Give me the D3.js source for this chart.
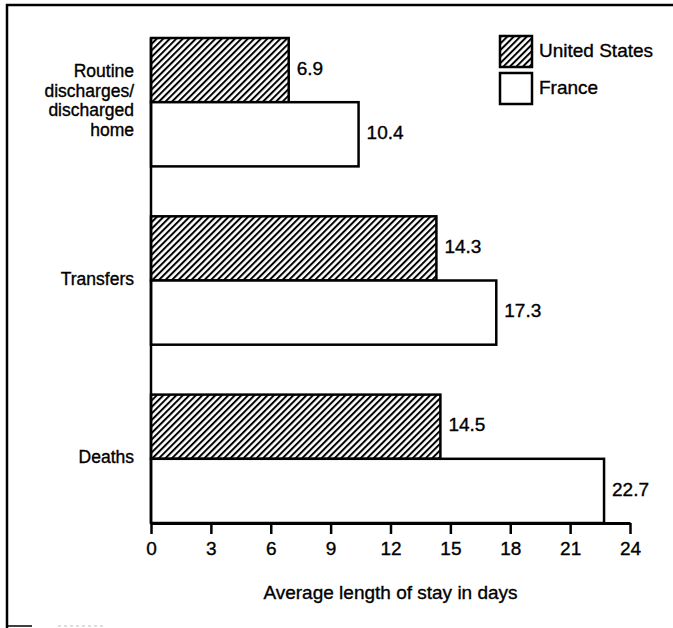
<!DOCTYPE html>
<html>
<head>
<meta charset="utf-8">
<script src="https://cdn.jsdelivr.net/npm/d3@7"></script>
<style>
body { margin: 0; background: #fff; }
text { font-family: "Liberation Sans", Arial, sans-serif; fill: #000; stroke: #000; stroke-width: 0.35px; }
</style>
</head>
<body>
<svg width="673" height="628"></svg>
<script>
// Data
const categories = ["Routine", "Transfers", "Deaths"];
const categoryLines = [["Routine", "discharges/", "discharged", "home"], ["Transfers"], ["Deaths"]];
const seriesNames = ["United States", "France"];
const usValues = [6.9, 14.3, 14.5];
const franceValues = [10.4, 17.3, 22.7];
const xTicks = [0, 3, 6, 9, 12, 15, 18, 21, 24];
const xTitle = "Average length of stay in days";

const svg = d3.select("svg"),
  width = +svg.attr("width"),
  height = +svg.attr("height");

const fontSize = 19;

// Scales
const x = d3.scaleLinear().domain([0, 24]).range([151, 630]);
const y = d3.scaleBand().domain(categories).range([38, 523]).paddingInner(0.28);
const ySub = d3.scaleBand().domain(seriesNames).range([0, y.bandwidth()]);

// Hatch pattern for United States
const defs = svg.append("defs");
const pat = defs.append("pattern")
  .attr("id", "hatch")
  .attr("patternUnits", "userSpaceOnUse")
  .attr("width", 4.6)
  .attr("height", 4.6)
  .attr("patternTransform", "rotate(45)");
pat.append("rect").attr("width", 4.6).attr("height", 4.6).attr("fill", "#fff");
pat.append("line")
  .attr("x1", 1).attr("y1", 0).attr("x2", 1).attr("y2", 4.6)
  .attr("stroke", "#000").attr("stroke-width", 2);

const fills = { "United States": "url(#hatch)", "France": "#fff" };

// Frame (open on the right, as in the scan)
svg.append("path")
  .attr("d", `M7,${height} L7,5 L${width},5`)
  .attr("fill", "none")
  .attr("stroke", "#000")
  .attr("stroke-width", 2.5);
svg.append("line")
  .attr("x1", 7).attr("x2", 32).attr("y1", 626).attr("y2", 626)
  .attr("stroke", "#000").attr("stroke-width", 1.5);
svg.append("line")
  .attr("x1", 58).attr("x2", 103).attr("y1", 626).attr("y2", 626)
  .attr("stroke", "#bbb").attr("stroke-width", 1).attr("stroke-dasharray", "3,3");

// Rows
const rows = categories.map((c, i) => ({
  cat: c,
  values: [
    { s: "United States", v: usValues[i] },
    { s: "France", v: franceValues[i] }
  ]
}));

const group = svg.append("g")
  .selectAll("g")
  .data(rows)
  .join("g")
  .attr("transform", d => `translate(0,${y(d.cat)})`);

group.selectAll("rect")
  .data(d => d.values)
  .join("rect")
  .attr("x", x(0))
  .attr("y", d => ySub(d.s))
  .attr("width", d => x(d.v) - x(0))
  .attr("height", ySub.bandwidth())
  .attr("fill", d => fills[d.s])
  .attr("stroke", "#000")
  .attr("stroke-width", 2.5);

// Value labels
group.selectAll("text.value")
  .data(d => d.values)
  .join("text")
  .attr("class", "value")
  .attr("x", d => x(d.v) + 8)
  .attr("y", d => ySub(d.s) + ySub.bandwidth() / 2 - 2)
  .attr("dy", "0.35em")
  .attr("font-size", fontSize)
  .text(d => d.v.toFixed(1));

// Category labels
const catSize = 17.5;
const lineH = 19.5;
svg.append("g")
  .selectAll("text")
  .data(categories)
  .join("text")
  .attr("text-anchor", "end")
  .attr("font-size", catSize)
  .each(function (c, i) {
    const lines = categoryLines[i];
    const mid = y(c) + y.bandwidth() / 2;
    const first = mid - (lines.length - 1) * lineH / 2 - 2;
    d3.select(this).selectAll("tspan")
      .data(lines)
      .join("tspan")
      .attr("x", 134)
      .attr("y", (t, j) => first + j * lineH)
      .attr("dy", "0.35em")
      .text(t => t);
  });

// Vertical baseline
svg.append("line")
  .attr("x1", x(0)).attr("x2", x(0))
  .attr("y1", y.range()[0]).attr("y2", y.range()[1])
  .attr("stroke", "#000")
  .attr("stroke-width", 2.5);

// X axis
const xAxis = svg.append("g")
  .attr("transform", `translate(0,${y.range()[1]})`)
  .call(d3.axisBottom(x).tickValues(xTicks).tickSize(11).tickSizeOuter(0).tickPadding(8));
xAxis.select(".domain").attr("stroke-width", 3);
xAxis.selectAll(".tick line").attr("stroke-width", 2.5);
xAxis.selectAll(".tick text")
  .attr("font-size", fontSize)
  .attr("font-family", "Liberation Sans, Arial, sans-serif");

// Axis title
svg.append("text")
  .attr("x", (x(0) + x(24)) / 2)
  .attr("y", 599)
  .attr("text-anchor", "middle")
  .attr("font-size", fontSize)
  .text(xTitle);

// Legend
const legend = svg.append("g")
  .attr("transform", "translate(500,36)");
const legendItem = legend.selectAll("g")
  .data(seriesNames)
  .join("g")
  .attr("transform", (d, i) => `translate(0,${i * 37})`);
legendItem.append("rect")
  .attr("width", 32)
  .attr("height", 31)
  .attr("fill", d => fills[d])
  .attr("stroke", "#000")
  .attr("stroke-width", 2.5);
legendItem.append("text")
  .attr("x", 39)
  .attr("y", 14.5)
  .attr("dy", "0.35em")
  .attr("font-size", fontSize)
  .text(d => d);
</script>
</body>
</html>
